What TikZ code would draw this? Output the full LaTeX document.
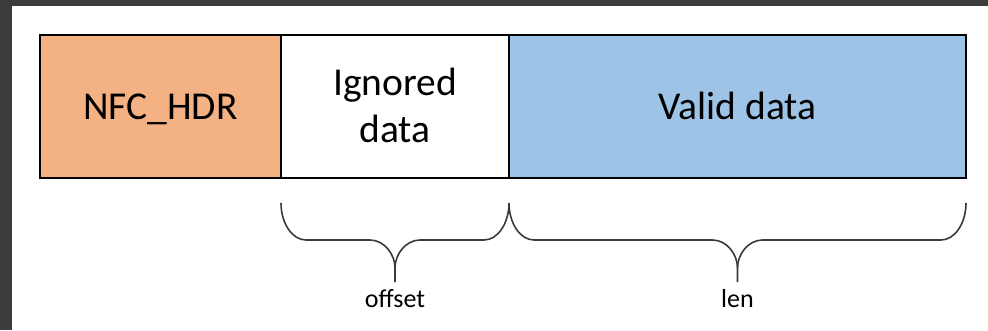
\documentclass[tikz,border=0pt]{standalone}
\usepackage{fontspec}
\setmainfont{Carlito}
\usetikzlibrary{calc}
\definecolor{framegray}{HTML}{3C3C3C}
\definecolor{hdrorange}{HTML}{F4B183}
\definecolor{validblue}{HTML}{9DC3E6}
\definecolor{bracegray}{HTML}{3A3A3A}

% curly brace from (#1) to (#2) with its tip at (#3)
\newcommand\curlybrace[3]{%
  \draw[bracebody] (#1) .. controls +(0,20) and +(-14,0) .. ++(25,37)
    -- ($(#3)+(-25,-42)$) .. controls +(14,0) and +(0,-14) .. ($(#3)+(0,-14)$)
    -- (#3);
  \draw[bracebody] ($(#3)+(0,-14)$) .. controls +(0,-14) and +(-14,0) .. ($(#3)+(25,-42)$)
    -- ($(#2)+(-25,37)$) .. controls +(14,0) and +(0,20) .. (#2);
}

\begin{document}
\begin{tikzpicture}[x=1pt,y=-1pt,
  field/.style={draw=black, line width=1.5pt, inner sep=0pt, outer sep=0pt,
    minimum height=143pt, align=center,
    font=\fontsize{39.5}{47}\selectfont, text height=25pt, text depth=-3pt},
  bracebody/.style={draw=bracegray, line width=1.6pt},
  bracelabel/.style={anchor=base, inner sep=0pt, font=\fontsize{26}{30}\selectfont}]
  % window frame
  \fill[framegray] (0,0) rectangle (988,330);
  \fill[white] (12,6) rectangle (988,330);
  \useasboundingbox (0,0) rectangle (988,330);

  % packet fields
  \node[field, fill=hdrorange, minimum width=241pt] (hdr) at (160.5,106.5) {NFC\_HDR};
  \node[field, fill=white, minimum width=228pt, text height=72pt, text depth=0pt] (ign) at (395,106.5) {Ignored\\data};
  \node[field, fill=validblue, minimum width=457pt] (val) at (737.5,106.5) {Valid data};

  % brace anchors
  \coordinate (b1l) at ($(ign.south west)+(0,25)$);
  \coordinate (b1r) at ($(ign.south east)+(0,25)$);
  \coordinate (b1t) at ($(ign.south)+(0,104)$);
  \coordinate (b2l) at ($(val.south west)+(0,25)$);
  \coordinate (b2r) at ($(val.south east)+(0,25)$);
  \coordinate (b2t) at ($(val.south)+(0,104)$);

  \curlybrace{b1l}{b1r}{b1t}
  \curlybrace{b2l}{b2r}{b2t}

  \node[bracelabel] (offlbl) at ($(b1t)+(0,25)$) {offset};
  \node[bracelabel] (lenlbl) at ($(b2t)+(0,25)$) {len};
\end{tikzpicture}
\end{document}
